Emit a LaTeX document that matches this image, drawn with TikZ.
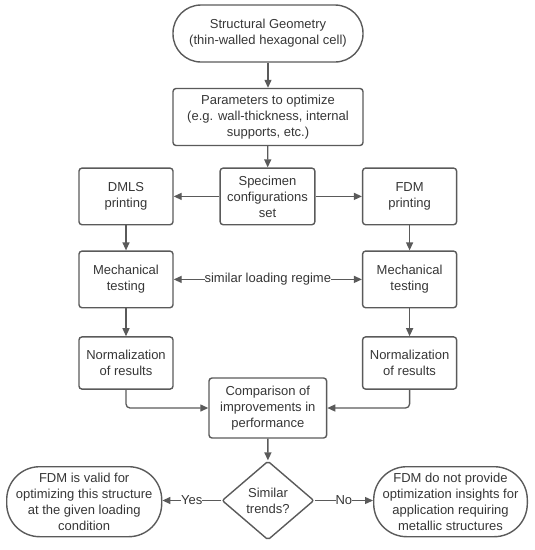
\documentclass[tikz,border=0pt]{standalone}
\usepackage{fontspec}
\setmainfont{Liberation Sans}
\usetikzlibrary{shapes.geometric,arrows.meta}
\definecolor{linegray}{HTML}{5A5A5A}
\definecolor{textgray}{HTML}{363636}
\tikzset{
  x=1pt, y=-1pt,
  every node/.style={font=\fontsize{13}{16}\selectfont, text=textgray, align=center, inner sep=0pt},
  boxnode/.style={draw=linegray, line width=1.4pt, rounded corners=3pt, minimum width=94pt, minimum height=56.6pt},
  termnode/.style={draw=linegray, line width=1.4pt, minimum width=190pt, minimum height=57pt, rounded corners=28pt},
  bigterm/.style={draw=linegray, line width=1.4pt, minimum width=154pt, minimum height=70pt, rounded corners=33pt},
  decision/.style={draw=linegray, line width=1.4pt, diamond, shape aspect=1.16, minimum width=92pt, minimum height=79pt, rounded corners=2pt},
  conn/.style={draw=linegray, line width=1.3pt, -{Triangle[length=8pt,width=7pt]}},
  lbl/.style={fill=white, inner xsep=1pt, inner ysep=2pt}
}
\begin{document}
\begin{tikzpicture}
\useasboundingbox (0,0) rectangle (535,550);
\node[termnode] (geo) at (268,33.5) {Structural Geometry\\(thin-walled hexagonal cell)};
\node[boxnode, minimum width=190pt, minimum height=57pt] (par) at (268,117) {Parameters to optimize\\(e.g. wall-thickness, internal\\supports, etc.)};
\node[boxnode, minimum width=94.7pt] (spec) at (267.5,196.4) {Specimen\\configurations\\set};
\node[boxnode] (dmls) at (126,196.4) {DMLS\\printing};
\node[boxnode] (fdm) at (409.6,196.4) {FDM\\printing};
\node[boxnode] (mech1) at (126,279.4) {Mechanical\\testing};
\node[boxnode] (mech2) at (409.6,279.4) {Mechanical\\testing};
\node[boxnode, minimum height=52.2pt] (norm1) at (126,363) {Normalization\\of results};
\node[boxnode, minimum height=52.2pt] (norm2) at (409.6,363) {Normalization\\of results};
\node[boxnode, minimum width=117.6pt, minimum height=60pt] (comp) at (267.8,408) {Comparison of\\improvements in\\performance};
\node[decision] (dia) at (268,500.5) {Similar\\trends?};
\node[bigterm, minimum width=155pt] (yes) at (84.2,501.7) {FDM is valid for\\optimizing this structure\\at the given loading\\condition};
\node[bigterm, minimum width=153.6pt] (no) at (450.5,501.7) {FDM do not provide\\optimization insights for\\application requiring\\metallic structures};

\draw[conn] (geo) -- (par);
\draw[conn] (par) -- (spec);
\draw[conn] (spec) -- (dmls);
\draw[conn] (spec) -- (fdm);
\draw[conn] (dmls) -- (mech1);
\draw[conn] (fdm) -- (mech2);
\draw[conn] (mech1) -- (norm1);
\draw[conn] (mech2) -- (norm2);
\draw[conn, {Triangle[length=8pt,width=7pt]}-{Triangle[length=8pt,width=7pt]}] (mech1) -- node[lbl, inner xsep=0pt] (slr) {similar loading regime} (mech2);
\draw[conn, rounded corners=4pt] (norm1.south) |- (comp.west);
\draw[conn, rounded corners=4pt] (norm2.south) |- (comp.east);
\draw[conn] (comp) -- (dia);
\draw[conn] (dia.west) -- node[lbl, inner xsep=0pt] (ylbl) {Yes} (yes.east |- dia.west);
\draw[conn] (dia.east) -- node[lbl, inner xsep=0pt] (nlbl) {No} (no.west |- dia.east);
\end{tikzpicture}
\end{document}
